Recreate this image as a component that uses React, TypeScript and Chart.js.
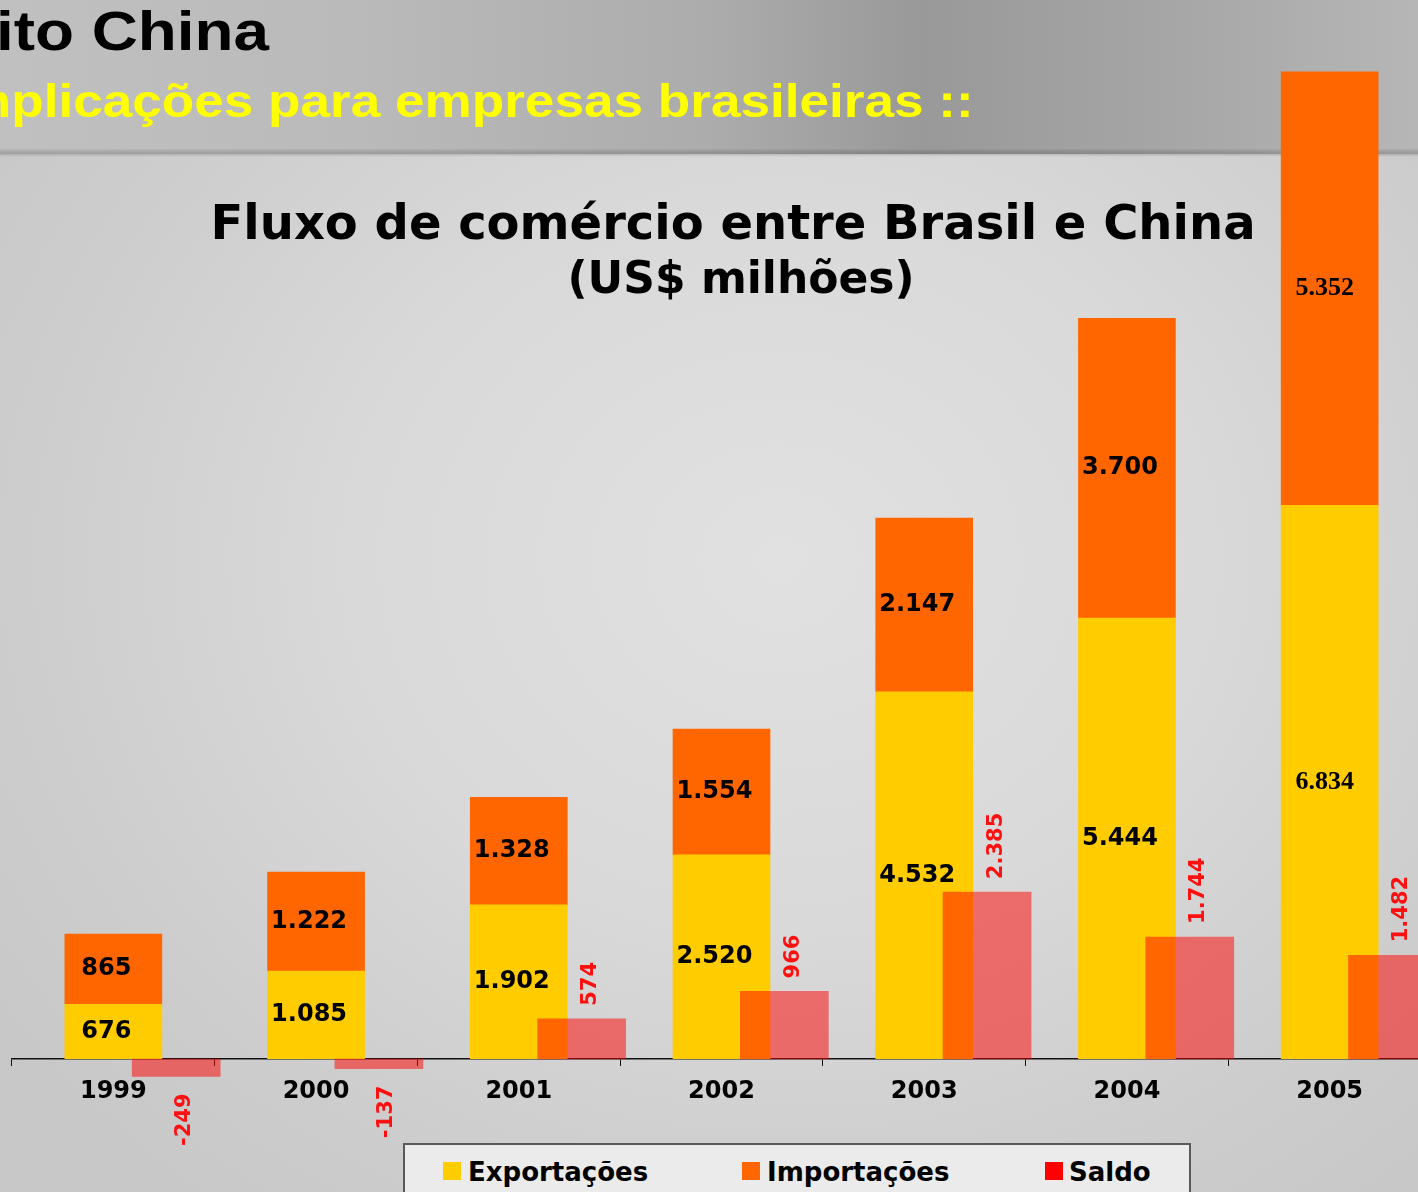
import React, { useEffect, useRef } from 'react';
import { Chart, registerables } from 'chart.js';

Chart.register(...registerables);

// ---- data ----
const YEARS = ['1999', '2000', '2001', '2002', '2003', '2004', '2005'];
const EXPORTACOES = [676, 1085, 1902, 2520, 4532, 5444, 6834];
const IMPORTACOES = [865, 1222, 1328, 1554, 2147, 3700, 5352];
const SALDO = [-249, -137, 574, 966, 2385, 1744, 1482];
const SERIES_NAMES = ['Exportações', 'Importações', 'Saldo'];
const SERIES_COLORS = ['#ffcc00', '#ff6600', '#ff0000'];
const SALDO_FILL = 'rgba(255, 0, 0, 0.5)';
const TITLE = 'Fluxo de comércio entre Brasil e China';
const SUBTITLE = '(US$ milhões)';
const HEADER_LINE1 = 'ito China';
const HEADER_LINE2 = 'mplicações para empresas brasileiras ::';
const SERIF_LABEL_YEAR = '2005';

// ---- layout constants ----
const CANVAS_W = 1460;
const CANVAS_H = 1192;
const AXIS_Y = 1059;
const SALDO_OFFSET = 0.31; // fraction of a category the saldo bar sits to the right

const fmt = (v: number) => {
  const s = String(Math.abs(v)).replace(/\B(?=(\d{3})+(?!\d))/g, '.');
  return (v < 0 ? '-' : '') + s;
};

const labelPlugin = {
  id: 'valueLabels',
  afterDatasetsDraw(chart: any) {
    const ctx = chart.ctx as CanvasRenderingContext2D;
    ctx.save();
    [0, 1].forEach((di) => {
      const meta = chart.getDatasetMeta(di);
      const values = chart.data.datasets[di].data as number[];
      meta.data.forEach((bar: any, i: number) => {
        const serif = YEARS[i] === SERIF_LABEL_YEAR;
        const { x, y, base } = bar.getProps(['x', 'y', 'base'], true);
        ctx.font = serif ? 'bold 26px "Liberation Serif"' : 'bold 24px "DejaVu Sans"';
        ctx.fillStyle = '#000000';
        ctx.textAlign = 'center';
        ctx.textBaseline = 'middle';
        ctx.fillText(fmt(values[i]), x + (serif ? -5 : -7), (y + base) / 2);
      });
    });
    const sMeta = chart.getDatasetMeta(2);
    sMeta.data.forEach((bar: any, i: number) => {
      const v = SALDO[i];
      const { x, y } = bar.getProps(['x', 'y'], true);
      ctx.save();
      ctx.font = 'bold 21px "DejaVu Sans"';
      ctx.fillStyle = '#ff1010';
      ctx.textBaseline = 'middle';
      if (v >= 0) {
        ctx.translate(x + 9, y - 13);
        ctx.rotate(-Math.PI / 2);
        ctx.textAlign = 'left';
      } else {
        ctx.translate(x + 8, y + 17);
        ctx.rotate(-Math.PI / 2);
        ctx.textAlign = 'right';
      }
      ctx.fillText(fmt(v), 0, 0);
      ctx.restore();
    });
    ctx.restore();
  },
};

function ChartCanvas() {
  const ref = useRef<HTMLCanvasElement | null>(null);
  useEffect(() => {
    if (!ref.current) return;
    const first = parseFloat(YEARS[0]);
    const last = parseFloat(YEARS[YEARS.length - 1]);
    const chart = new Chart(ref.current, {
      type: 'bar',
      data: {
        labels: YEARS,
        datasets: [
          {
            label: SERIES_NAMES[0],
            data: EXPORTACOES,
            backgroundColor: SERIES_COLORS[0],
            stack: 'fluxo',
            xAxisID: 'x',
            yAxisID: 'y',
            barThickness: 97,
            grouped: false,
            order: 1,
          },
          {
            label: SERIES_NAMES[1],
            data: IMPORTACOES,
            backgroundColor: SERIES_COLORS[1],
            stack: 'fluxo',
            xAxisID: 'x',
            yAxisID: 'y',
            barThickness: 97,
            grouped: false,
            order: 1,
          },
          {
            label: SERIES_NAMES[2],
            data: SALDO,
            backgroundColor: SALDO_FILL,
            stack: 'saldo',
            xAxisID: 'x2',
            yAxisID: 'y2',
            barThickness: 88,
            grouped: false,
            clip: false as any,
            order: 0,
          },
        ],
      },
      options: {
        responsive: false,
        animation: false,
        events: [],
        layout: { padding: { top: 6, left: 12, right: 29, bottom: 0 } },
        plugins: {
          legend: { display: false },
          tooltip: { enabled: false },
          title: { display: false },
        },
        scales: {
          x: {
            type: 'category',
            position: 'bottom',
            stacked: true,
            offset: true,
            grid: {
              display: true,
              drawOnChartArea: false,
              drawTicks: true,
              tickLength: 7,
              color: '#111111',
              lineWidth: 1,
              offset: true,
            },
            border: { display: true, color: '#111111', width: 1.5 },
            ticks: {
              color: '#000000',
              font: { family: 'DejaVu Sans', size: 24, weight: 'bold' },
              padding: 11,
              maxRotation: 0,
            },
            afterFit(scale: any) {
              scale.height = CANVAS_H - AXIS_Y;
            },
          },
          x2: {
            type: 'linear',
            position: 'bottom',
            display: false,
            offset: false,
            bounds: 'data',
            min: first - 0.5 - SALDO_OFFSET,
            max: last + 0.5 - SALDO_OFFSET,
            grid: { display: false, offset: false },
          },
          y: {
            type: 'linear',
            stacked: true,
            display: false,
            min: 0,
            max: 13000,
          },
          y2: {
            type: 'linear',
            stacked: false,
            display: false,
            min: 0,
            max: 15050,
          },
        },
      },
      plugins: [labelPlugin],
    } as any);
    return () => chart.destroy();
  }, []);
  return (
    <canvas
      ref={ref}
      width={CANVAS_W}
      height={CANVAS_H}
      style={{ position: 'absolute', left: 0, top: 0, width: CANVAS_W, height: CANVAS_H, display: 'block' }}
    />
  );
}

export default function App() {
  const legendItems = [
    { sq: 443, tx: 468 },
    { sq: 742, tx: 767 },
    { sq: 1045, tx: 1069 },
  ];
  const LEG_LEFT = 403;
  const LEG_TOP = 1143;
  return (
    <div
      style={{
        position: 'fixed',
        left: 0,
        top: 0,
        width: 1418,
        height: 1192,
        overflow: 'hidden',
        background:
          'radial-gradient(ellipse 950px 820px at 780px 560px, #e1e1e1 0%, #d9d9d9 45%, #cdcdcd 80%, #c8c8c8 100%)',
        fontFamily: '"DejaVu Sans", sans-serif',
      }}
    >
      {/* slide header band */}
      <div
        style={{
          position: 'absolute',
          left: 0,
          top: 0,
          width: 1418,
          height: 154,
          background:
            'linear-gradient(90deg, #c0c0c0 0%, #bababa 25%, #acacac 50%, #999999 65%, #a4a4a4 80%, #b6b6b6 100%)',
        }}
      />
      <div
        style={{
          position: 'absolute',
          left: 0,
          top: 149,
          width: 1418,
          height: 8,
          background: 'linear-gradient(180deg, rgba(0,0,0,0.04) 0%, rgba(0,0,0,0.16) 55%, rgba(255,255,255,0.0) 100%)',
        }}
      />
      <div
        style={{
          position: 'absolute',
          left: -4,
          top: 4,
          fontFamily: '"Liberation Sans", Arial, sans-serif',
          fontWeight: 'bold',
          fontSize: 55,
          lineHeight: '55px',
          color: '#000000',
          whiteSpace: 'nowrap',
          transform: 'scaleX(1.16)',
          transformOrigin: 'left top',
        }}
      >
        {HEADER_LINE1}
      </div>
      <div
        style={{
          position: 'absolute',
          left: -36,
          top: 77,
          fontFamily: '"Liberation Sans", Arial, sans-serif',
          fontWeight: 'bold',
          fontSize: 47,
          lineHeight: '47px',
          color: '#ffff00',
          whiteSpace: 'nowrap',
          transform: 'scaleX(1.13)',
          transformOrigin: 'left top',
        }}
      >
        {HEADER_LINE2}
      </div>

      {/* chart title */}
      <div
        style={{
          position: 'absolute',
          left: 733,
          top: 198,
          transform: 'translateX(-50%)',
          fontWeight: 'bold',
          fontSize: 48,
          lineHeight: '48px',
          color: '#000000',
          whiteSpace: 'nowrap',
        }}
      >
        {TITLE}
      </div>
      <div
        style={{
          position: 'absolute',
          left: 741,
          top: 256,
          transform: 'translateX(-50%)',
          fontWeight: 'bold',
          fontSize: 44,
          lineHeight: '44px',
          color: '#000000',
          whiteSpace: 'nowrap',
        }}
      >
        {SUBTITLE}
      </div>

      <ChartCanvas />

      {/* legend */}
      <div
        style={{
          position: 'absolute',
          left: LEG_LEFT,
          top: LEG_TOP,
          width: 788,
          height: 70,
          boxSizing: 'border-box',
          border: '2px solid #5a5a5a',
          background: '#ebebeb',
        }}
      >
        {legendItems.map((it, i) => (
          <React.Fragment key={SERIES_NAMES[i]}>
            <div
              style={{
                position: 'absolute',
                left: it.sq - LEG_LEFT - 2,
                top: 1162 - LEG_TOP - 2,
                width: 18,
                height: 18,
                background: SERIES_COLORS[i],
              }}
            />
            <div
              style={{
                position: 'absolute',
                left: it.tx - LEG_LEFT - 2,
                top: 1159 - LEG_TOP - 2,
                fontWeight: 'bold',
                fontSize: 26,
                lineHeight: '26px',
                color: '#000000',
                whiteSpace: 'nowrap',
              }}
            >
              {SERIES_NAMES[i]}
            </div>
          </React.Fragment>
        ))}
      </div>
    </div>
  );
}
